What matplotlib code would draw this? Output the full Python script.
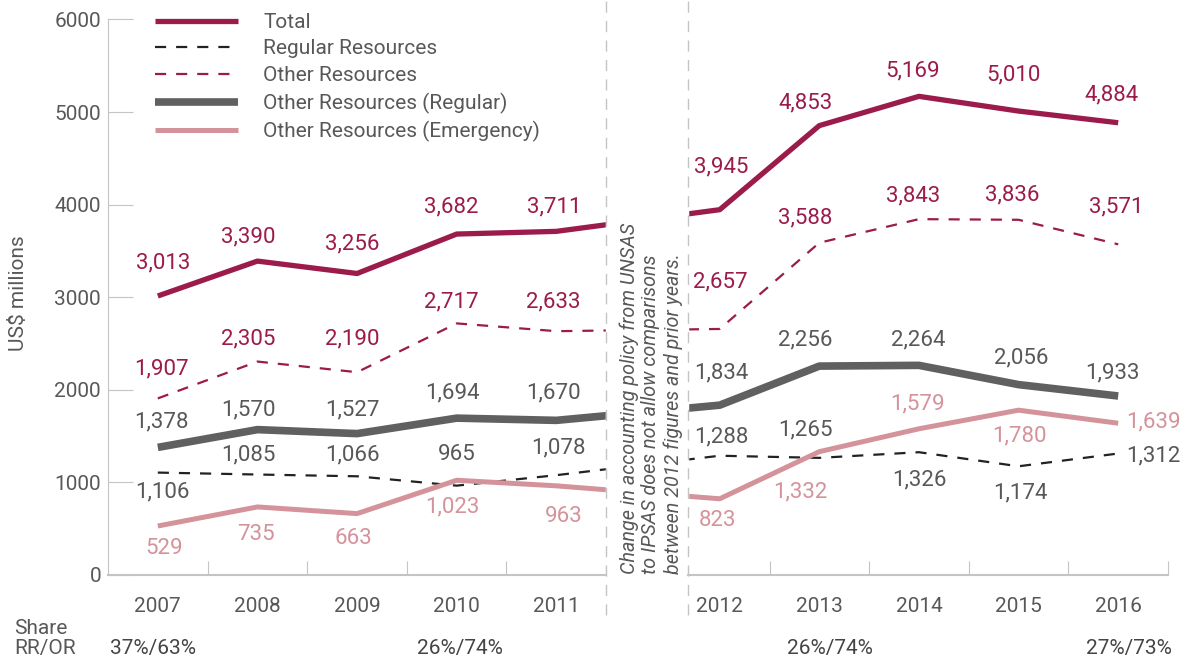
import numpy as np
import matplotlib.pyplot as plt

plt.rcParams['font.family'] = ['Roboto', 'Liberation Sans', 'DejaVu Sans']

# data (US$ millions)
years = [2007, 2008, 2009, 2010, 2011, 2012, 2013, 2014, 2015, 2016]
total = [3013, 3390, 3256, 3682, 3711, 3945, 4853, 5169, 5010, 4884]
regular_res = [1106, 1085, 1066, 965, 1078, 1288, 1265, 1326, 1174, 1312]
other_res = [1907, 2305, 2190, 2717, 2633, 2657, 3588, 3843, 3836, 3571]
other_regular = [1378, 1570, 1527, 1694, 1670, 1834, 2256, 2264, 2056, 1933]
other_emergency = [529, 735, 663, 1023, 963, 823, 1332, 1579, 1780, 1639]

share_labels = ['37%/63%', '26%/74%', '26%/74%', '27%/73%']
note = ('Change in accounting policy from UNSAS\n'
        'to IPSAS does not allow comparisons\n'
        'between 2012 figures and prior years.')

# colours
maroon = '#9b1b4a'
darkgrey = '#606060'
pink = '#d4939a'
black = '#222222'
textgrey = '#585858'
axisgrey = '#c4c4c4'

# x layout: 2007-2011 at 0..4, gap, 2012-2016 after it
gap_shift = 0.64
xs = np.array([i if i < 5 else i + gap_shift for i in range(len(years))], dtype=float)
gap_lo, gap_hi = 4.5, 5.32
x_left, x_right = -0.5, xs[-1] + 0.5

fig = plt.figure(figsize=(11.87, 6.58), dpi=100)
ax = fig.add_axes([108 / 1187, 83 / 658, 1060 / 1187, 555.6 / 658])

# label offsets in pixels (dx, dy)
off_total = [(5, 33), (-9, 24), (-5, 30), (-5, 27), (-2, 24), (1, 43), (-14, 23), (-6, 25), (-5, 36), (-7, 28)]
off_other = [(4, 29), (-9, 23), (-5, 33), (-5, 21), (-3, 29), (1, 47), (-14, 25), (-6, 23), (-6, 25), (-2, 37)]
off_oreg = [(4, 25), (-9, 20), (-5, 24), (-4, 25), (-3, 27), (2, 32), (-14, 26), (-1, 25), (3, 27), (-6, 23)]
off_reg = [(5, -19), (-9, 20), (-5, 21), (0, 31), (2, 27), (2, 19), (-14, 28), (0, -28), (2, -27), (35, -2)]
off_emer = [(6, -22), (-1, -28), (-4, -25), (-4, -27), (7, -31), (-2, -22), (-19, -40), (-1, 25), (1, -26), (35, 1)]

series = [
    (total, 'Total', dict(color=maroon, lw=3.8), maroon, off_total),
    (regular_res, 'Regular Resources', dict(color=black, lw=1.6, dashes=(5, 4.5)), textgrey, off_reg),
    (other_res, 'Other Resources', dict(color=maroon, lw=1.6, dashes=(5, 4.5)), maroon, off_other),
    (other_regular, 'Other Resources (Regular)', dict(color=darkgrey, lw=5.5), textgrey, off_oreg),
    (other_emergency, 'Other Resources (Emergency)', dict(color=pink, lw=3.6), pink, off_emer),
]

for vals, name, style, tcol, offs in series:
    ax.plot(xs, vals, label=name, solid_capstyle='butt', zorder=2, **style)
    for x, v, (dx, dy) in zip(xs, vals, offs):
        ax.annotate(f'{v:,}', (x, v), xytext=(dx, dy), textcoords='offset pixels',
                    ha='center', va='center', fontsize=16, color=tcol, zorder=6)

# blank gap between the two periods
ax.axvspan(gap_lo, gap_hi, ymin=-0.02, ymax=1.0, color='white', zorder=3, clip_on=False)
for gx in (gap_lo, gap_hi):
    ax.plot([gx, gx], [-430, 6210], color=axisgrey, lw=1, dashes=(8, 6),
            clip_on=False, zorder=4)
ax.text((gap_lo + gap_hi) / 2 + 0.04, 15, note, rotation=90, ha='center', va='bottom',
        multialignment='left', fontsize=14.2, style='italic', color=textgrey,
        linespacing=1.18, zorder=5)

# axes
ax.set_xlim(x_left, x_right)
ax.set_ylim(0, 6000)
ax.set_yticks(range(0, 6001, 1000))
ax.tick_params(axis='y', direction='in', length=18, color=axisgrey, labelsize=15,
               labelcolor=textgrey, pad=5)
for s in ['top', 'right', 'bottom']:
    ax.spines[s].set_visible(False)
ax.spines['left'].set_color(axisgrey)

ax.plot([x_left, gap_lo], [0, 0], color=axisgrey, lw=1.5, clip_on=False, zorder=4)
ax.plot([gap_hi, x_right], [0, 0], color=axisgrey, lw=1.5, clip_on=False, zorder=4)
bounds = [0.5, 1.5, 2.5, 3.5, 4.5] + list(xs[5:] + 0.5)
ax.set_xticks(bounds)
ax.set_xticklabels([])
ax.tick_params(axis='x', which='major', direction='in', length=10, color=axisgrey)
ax.set_xticks(xs, [str(y) for y in years], minor=True)
ax.tick_params(axis='x', which='minor', length=0, labelsize=15, labelcolor=textgrey, pad=16)

fig.text(19 / 1187, 1 - 293 / 658, 'US$ millions', rotation=90, ha='center', va='center',
         fontsize=15, color=textgrey)

# legend
handles, labels = ax.get_legend_handles_labels()
ax.legend(handles, labels, loc='upper left', bbox_to_anchor=(155 / 1187, 1 - 13 / 658),
          bbox_transform=fig.transFigure, frameon=False, fontsize=15, handlelength=4.0,
          handletextpad=1.2, labelspacing=0.36, borderpad=0, borderaxespad=0,
          labelcolor=textgrey)

# share row
fig.text(14 / 1187, 1 - 634 / 658, 'Share', fontsize=15, color=textgrey, va='baseline')
fig.text(14 / 1187, 1 - 654 / 658, 'RR/OR', fontsize=15, color=textgrey, va='baseline')
for cx, lab in zip([153, 460, 830, 1129], share_labels):
    fig.text(cx / 1187, 1 - 654 / 658, lab, fontsize=15, color='#444444',
             ha='center', va='baseline')

fig.savefig('out.png', dpi=100)
